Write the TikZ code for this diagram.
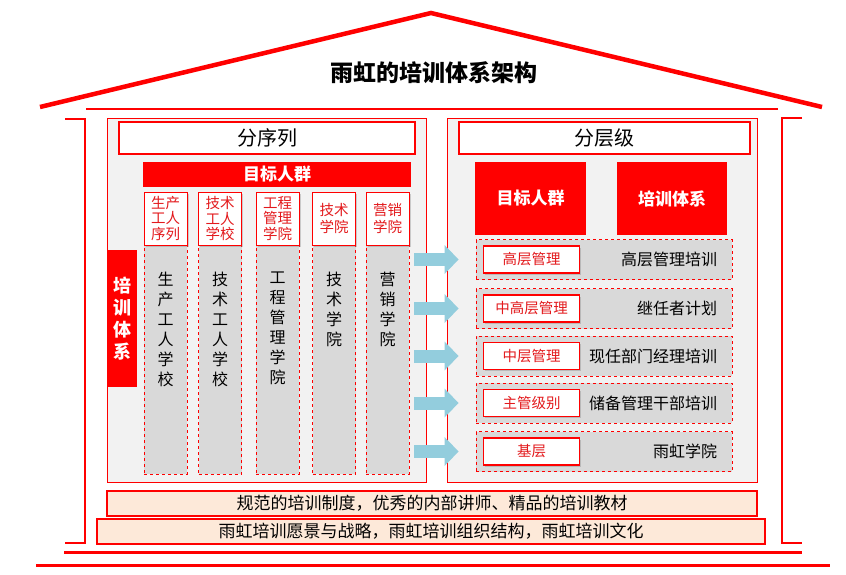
\documentclass[tikz,border=0pt]{standalone}
\usepackage{fontspec}
\setmainfont{Noto Sans CJK SC}
\usetikzlibrary{arrows.meta,shadows}
\definecolor{hred}{HTML}{FF0000}
\definecolor{panelgrey}{HTML}{F2F2F2}
\definecolor{colgrey}{HTML}{D9D9D9}
\definecolor{peach}{HTML}{FDE9D9}
\definecolor{arrowblue}{HTML}{93CDDD}
\definecolor{labelred}{HTML}{E3191C}

\begin{document}
\begin{tikzpicture}[x=1pt,y=-1pt,
    panel/.style={draw=hred, fill=panelgrey, line width=0.8pt, minimum width=#1, minimum height=364pt, inner sep=0pt},
    titlebox/.style={draw=hred, fill=white, line width=2.5pt, minimum width=#1, minimum height=32pt, inner sep=0pt, font=\fontsize{20}{20}\selectfont},
    redbox/.style={fill=hred, text=white, inner sep=0pt, align=center, font=\fontsize{17}{22}\selectfont\bfseries},
    headbox/.style={draw=hred, fill=white, line width=1pt, minimum width=43pt, minimum height=53pt, inner sep=0pt, align=center, text=labelred, font=\fontsize{14.5}{15.5}\selectfont, drop shadow={opacity=0.35, shadow xshift=1.5pt, shadow yshift=-1.5pt}},
    colbody/.style={draw=hred, fill=colgrey, dashed, line width=0.8pt, minimum width=43pt, minimum height=229pt, inner sep=0pt},
    coltext/.style={anchor=north, inner sep=0pt, align=center, font=\fontsize{16}{20}\selectfont},
    levelrow/.style={draw=hred, fill=colgrey, dashed, line width=0.8pt, minimum width=256pt, minimum height=40pt, inner sep=0pt},
    leveltag/.style={draw=hred, fill=white, line width=1.2pt, minimum width=96pt, minimum height=27pt, inner sep=0pt, text=labelred, font=\fontsize{14.5}{14.5}\selectfont, drop shadow={opacity=0.35, shadow xshift=1.5pt, shadow yshift=-1.5pt}},
    leveltext/.style={anchor=east, inner sep=0pt, font=\fontsize{16}{16}\selectfont},
    basebar/.style={draw=hred, fill=peach, line width=1.2pt, minimum width=#1, minimum height=25pt, inner sep=0pt, font=\fontsize{17}{17}\selectfont},
    flowarrow/.style={arrowblue, line width=13pt, -{Triangle[width=28pt,length=14pt]}}
  ]
  \useasboundingbox (0,0) rectangle (846,575);

  % roof, frame and ground lines
  \draw [hred, line width=4.5pt] (40,107) -- (431,13) -- (822,107);
  \draw [hred, line width=2.5pt] (86,109) -- (778,109);
  \draw [hred, line width=2.5pt] (65,119) -- (85,119) -- (85,543) -- (65,543);
  \draw [hred, line width=2.5pt] (802,118) -- (782,118) -- (782,543) -- (802,543);
  \draw [hred, line width=3pt] (64,552) -- (802,552);
  \draw [hred, line width=3pt] (36,565) -- (830,565);
  \node [font=\fontsize{23}{23}\selectfont\bfseries] (title) at (434,73) {雨虹的培训体系架构};

  % left half
  \node [panel=319pt] (lpanel) at (266.5,300) {};
  \node [titlebox=296pt] (seqtitle) at (267,138) {分序列};
  \node [redbox, minimum width=268pt, minimum height=25pt] (lgroup) at (277,174.5) {目标人群};
  \node [redbox, minimum width=30pt, minimum height=137pt, font=\fontsize{18}{22}\selectfont\bfseries] (lsys) at (122,318.5) {培\\训\\体\\系};

  \node [colbody] (c1body) at (165.5,359.5) {};
  \node [colbody] (c2body) at (220,359.5) {};
  \node [colbody] (c3body) at (277.5,359.5) {};
  \node [colbody] (c4body) at (334,359.5) {};
  \node [colbody] (c5body) at (387.5,359.5) {};
  \node [headbox] (c1head) at (165.5,218.5) {生产\\工人\\序列};
  \node [headbox] (c2head) at (220,218.5) {技术\\工人\\学校};
  \node [headbox] (c3head) at (277.5,218.5) {工程\\管理\\学院};
  \node [headbox, font=\fontsize{14.5}{17}\selectfont] (c4head) at (334,218.5) {技术\\学院};
  \node [headbox, font=\fontsize{14.5}{17}\selectfont] (c5head) at (387.5,218.5) {营销\\学院};
  \node [coltext] (c1text) at ([yshift=-27pt]c1body.north) {生\\产\\工\\人\\学\\校};
  \node [coltext] (c2text) at ([yshift=-27pt]c2body.north) {技\\术\\工\\人\\学\\校};
  \node [coltext] (c3text) at ([yshift=-27pt]c3body.north) {工\\程\\管\\理\\学\\院};
  \node [coltext] (c4text) at ([yshift=-27pt]c4body.north) {技\\术\\学\\院};
  \node [coltext] (c5text) at ([yshift=-27pt]c5body.north) {营\\销\\学\\院};

  % right half
  \node [panel=310pt] (rpanel) at (602,300) {};
  \node [titlebox=291pt] (lvltitle) at (604.5,138) {分层级};
  \node [redbox, minimum width=111pt, minimum height=73pt] (rgroup) at (530.5,198.5) {目标人群};
  \node [redbox, minimum width=110pt, minimum height=73pt] (rsys) at (672,198.5) {培训体系};

  \node [levelrow] (r1) at (604,259.5) {};
  \node [levelrow] (r2) at (604,308.5) {};
  \node [levelrow] (r3) at (604,356) {};
  \node [levelrow] (r4) at (604,403) {};
  \node [levelrow] (r5) at (604,451.5) {};
  \node [leveltag] (r1tag) at ([xshift=56pt]r1.west) {高层管理};
  \node [leveltag] (r2tag) at ([xshift=56pt]r2.west) {中高层管理};
  \node [leveltag] (r3tag) at ([xshift=56pt]r3.west) {中层管理};
  \node [leveltag] (r4tag) at ([xshift=56pt]r4.west) {主管级别};
  \node [leveltag] (r5tag) at ([xshift=56pt]r5.west) {基层};
  \node [leveltext] (r1text) at ([xshift=-15pt]r1.east) {高层管理培训};
  \node [leveltext] (r2text) at ([xshift=-15pt]r2.east) {继任者计划};
  \node [leveltext] (r3text) at ([xshift=-15pt]r3.east) {现任部门经理培训};
  \node [leveltext] (r4text) at ([xshift=-15pt]r4.east) {储备管理干部培训};
  \node [leveltext] (r5text) at ([xshift=-15pt]r5.east) {雨虹学院};

  % arrows between the halves
  \draw [flowarrow] ([xshift=-12pt]lpanel.east |- r1.center) -- ([xshift=12pt]rpanel.west |- r1.center);
  \draw [flowarrow] ([xshift=-12pt]lpanel.east |- r2.center) -- ([xshift=12pt]rpanel.west |- r2.center);
  \draw [flowarrow] ([xshift=-12pt]lpanel.east |- r3.center) -- ([xshift=12pt]rpanel.west |- r3.center);
  \draw [flowarrow] ([xshift=-12pt]lpanel.east |- r4.center) -- ([xshift=12pt]rpanel.west |- r4.center);
  \draw [flowarrow] ([xshift=-12pt]lpanel.east |- r5.center) -- ([xshift=12pt]rpanel.west |- r5.center);

  % foundation bars
  \node [basebar=650pt] (bar1) at (432,503.5) {规范的培训制度，优秀的内部讲师、精品的培训教材};
  \node [basebar=668pt] (bar2) at (431,531.5) {雨虹培训愿景与战略，雨虹培训组织结构，雨虹培训文化};
\end{tikzpicture}
\end{document}
